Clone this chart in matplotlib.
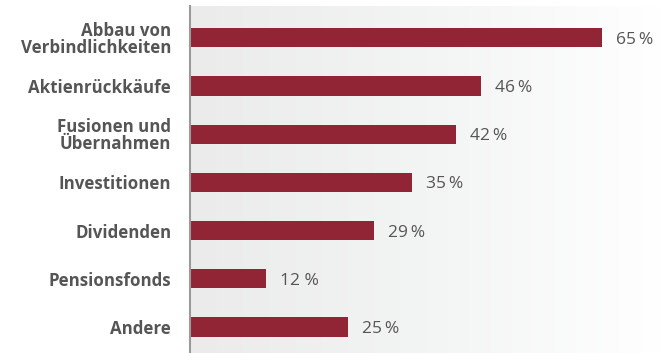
import matplotlib
matplotlib.use("Agg")
import matplotlib.pyplot as plt
import numpy as np
from matplotlib.colors import LinearSegmentedColormap

categories = ["Abbau von\nVerbindlichkeiten", "Aktienrückkäufe", "Fusionen und\nÜbernahmen",
              "Investitionen", "Dividenden", "Pensionsfonds", "Andere"]
values = [65, 46, 42, 35, 29, 12, 25]
value_labels = ["65\u2009%", "46\u2009%", "42\u2009%", "35\u2009%", "29\u2009%", "12 %", "25\u2009%"]

plt.rcParams['font.family'] = ['Open Sans', 'DejaVu Sans']

fig = plt.figure(figsize=(6.63, 3.53), dpi=100)
ax = fig.add_axes([190/663, 0.0, 1 - 190/663, 1 - 6/353])

y = np.arange(len(categories))
xmax = 74.7
ylo, yhi = len(categories) - 1 + 0.54, -0.66

cmap = LinearSegmentedColormap.from_list("bg", ["#ebebec", "#f3f4f4", "#ffffff"])
grad = np.linspace(0, 1, 256).reshape(1, -1)
ax.imshow(grad, cmap=cmap, aspect='auto', extent=(0, xmax, ylo, yhi), zorder=0)

ax.barh(y, values, height=0.4, color="#922535", zorder=2)
for yi, v, lab in zip(y, values, value_labels):
    ax.text(v + 2.2, yi + 0.04, lab, va='center', ha='left', fontsize=12.5, color="#555555", zorder=3)

ax.set_xlim(0, xmax)
ax.set_ylim(ylo, yhi)
ax.set_yticks(y)
ax.set_yticklabels(categories, fontsize=12.2, fontweight='bold', color="#555555", linespacing=0.92)
ax.tick_params(axis='y', length=0, pad=13.5)
ax.set_xticks([])
for s in ["top", "right", "bottom"]:
    ax.spines[s].set_visible(False)
ax.spines["left"].set_color("#9a9a9a")
ax.spines["left"].set_linewidth(1.5)
ax.spines["left"].set_zorder(4)

fig.savefig("out.png", dpi=100)
